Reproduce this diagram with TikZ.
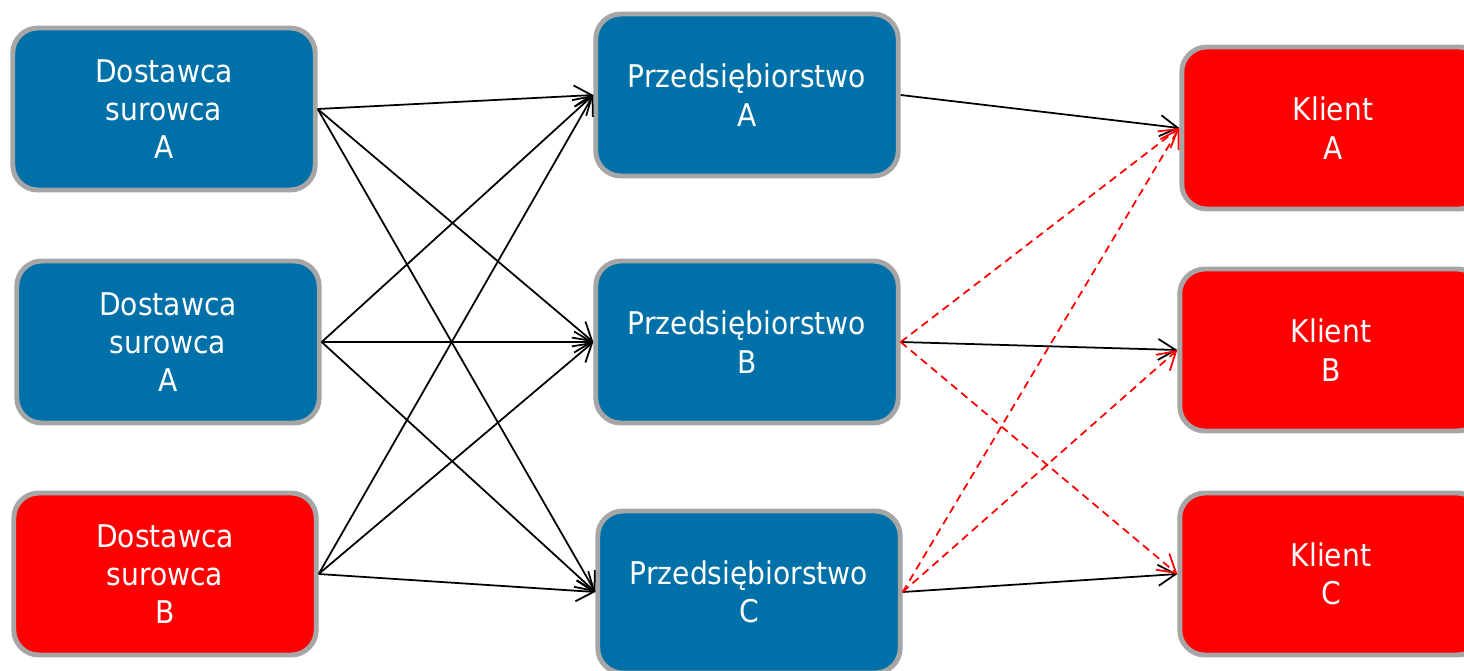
\documentclass[tikz,border=0pt]{standalone}
\usepackage{fontspec}
\setmainfont{DejaVu Sans Condensed}
\usetikzlibrary{arrows.meta,positioning}
\definecolor[named]{Blue}{RGB}{0,112,168}
\definecolor[named]{Red}{RGB}{255,0,0}
\definecolor[named]{Rim}{RGB}{166,166,166}
\tikzset{firm/.style ={
        fill=Blue,
        draw=Rim,
        line width=2.8pt,
        rounded corners=0.5cm,
        minimum width=6.05cm,
        minimum height=3.24cm,
        text=white,
        align=center,
        font=\fontsize{17.8}{21.8}\selectfont
    },
    hot/.style={
        firm,
        fill=Red
    },
    flow/.style ={
        draw,
        line width=1pt,
        -{Straight Barb[length=10pt,width=12pt,line width=1pt]}
    },
    maybe/.style ={
        draw=Red,
        line width=1pt,
        dash pattern=on 4.5pt off 3pt,
        -{Straight Barb[length=10pt,width=12pt,line width=1pt]}
    }}
\begin{document}
\begin{tikzpicture}[x=0.02cm,y=-0.02cm]
	\useasboundingbox (0,0) rectangle (1464,670);
	% dostawcy
	\node[firm] (supA) at (164,109) {Dostawca\\surowca\\A};
	\node[firm] (supA2) at (168,342) {Dostawca\\surowca\\A};
	\node[hot] (supB) at (165,574) {Dostawca\\surowca\\B};
	% przedsiebiorstwa
	\node[firm] (entA) at (747,95) {Przedsiębiorstwo\\A};
	\node[firm] (entB) at (747,342) {Przedsiębiorstwo\\B};
	\node[firm] (entC) at (749,592) {Przedsiębiorstwo\\C};
	% klienci
	\node[hot] (cliA) at (1333,128) {Klient\\A};
	\node[hot] (cliB) at (1331,350) {Klient\\B};
	\node[hot] (cliC) at (1331,574) {Klient\\C};
	\foreach \s in {supA,supA2,supB}
		\foreach \e in {entA,entB,entC}
			\path[flow] (\s.east) -- (\e.west);
	\path[flow] (entA.east) -- (cliA.west);
	\path[flow] (entB.east) -- (cliB.west);
	\path[flow] (entC.east) -- (cliC.west);
	\path[maybe] (entB.east) -- (cliA.west);
	\path[maybe] (entB.east) -- (cliC.west);
	\path[maybe] (entC.east) -- (cliA.west);
	\path[maybe] (entC.east) -- (cliB.west);
\end{tikzpicture}
\end{document}
